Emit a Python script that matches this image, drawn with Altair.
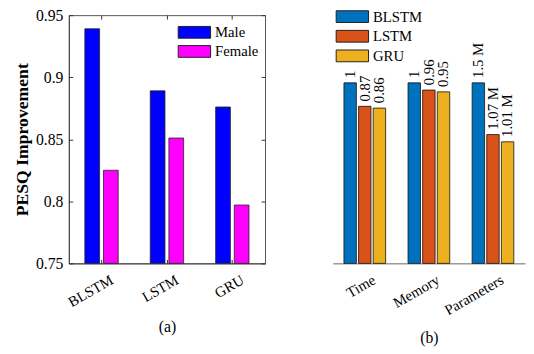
import altair as alt
import pandas as pd

# ---------------- data ----------------
# Panel (a): PESQ improvement
models_a = ["BLSTM", "LSTM", "GRU"]
genders = ["Male", "Female"]
male_vals = [0.939, 0.889, 0.876]
female_vals = [0.825, 0.851, 0.797]
y_ticks_a = [0.75, 0.8, 0.85, 0.9, 0.95]

# Panel (b): relative cost
metrics = ["Time", "Memory", "Parameters"]
models_b = ["BLSTM", "LSTM", "GRU"]
time_vals = [1, 0.87, 0.86]
memory_vals = [1, 0.96, 0.95]
param_vals = [1.5, 1.07, 1.01]
time_labels = ["1", "0.87", "0.86"]
memory_labels = ["1", "0.96", "0.95"]
param_labels = ["1.5 M", "1.07 M", "1.01 M"]

colors_a = ["#0000FF", "#FF00FF"]
colors_b = ["#0072BD", "#D95319", "#EDB120"]

FONT = "Liberation Serif"
W_A, W_B, H = 200, 196, 253
# wide legend rectangle: 33 x 12 px when symbolSize = 144
RECT = "M-2.75,-1H2.75V1H-2.75Z"

rows_a = []
for m, mv, fv in zip(models_a, male_vals, female_vals):
    rows_a.append({"model": m, "gender": "Male", "value": mv})
    rows_a.append({"model": m, "gender": "Female", "value": fv})
df_a = pd.DataFrame(rows_a)

rows_b = []
for met, vals, labs in zip(metrics, [time_vals, memory_vals, param_vals],
                           [time_labels, memory_labels, param_labels]):
    for mod, v, l in zip(models_b, vals, labs):
        rows_b.append({"metric": met, "model": mod, "value": v, "label": l})
df_b = pd.DataFrame(rows_b)


def legend(x, y, rowpad):
    return alt.Legend(title=None, orient="none", legendX=x, legendY=y,
                      symbolType=RECT, symbolSize=144,
                      symbolStrokeColor="#222222", symbolStrokeWidth=1,
                      symbolOpacity=1, labelFontSize=15, labelOffset=13.5,
                      rowPadding=rowpad, padding=0)


# ---------------- panel (a) ----------------
xoff_a = alt.XOffset("gender:N", sort=genders,
                     scale=alt.Scale(paddingInner=0.21, paddingOuter=0))
xscale_a = alt.Scale(paddingInner=0.49, paddingOuter=0.245)
yscale_a = alt.Scale(domain=[0.75, 0.95])

bars_a = alt.Chart(df_a).mark_bar(stroke="#222222", strokeWidth=0.8).encode(
    x=alt.X("model:N", sort=models_a, scale=xscale_a,
            axis=alt.Axis(title="(a)", labelAngle=330, labelFontSize=15,
                          titleFontSize=16, titleFontWeight="normal",
                          ticks=False, domainColor="#444444", labelPadding=9,
                          labelOffset=7, titlePadding=9)),
    xOffset=xoff_a,
    y=alt.Y("value:Q", scale=yscale_a,
            axis=alt.Axis(title="PESQ Improvement", values=y_ticks_a, format="~g",
                          labelFontSize=16, titleFontSize=18, titleFontWeight="bold",
                          ticks=False, grid=False, domainColor="#444444",
                          labelPadding=6, titlePadding=4)),
    y2=alt.datum(0.75),
    color=alt.Color("gender:N", sort=genders,
                    scale=alt.Scale(domain=genders, range=colors_a),
                    legend=legend(120.5, 10, 2.5)),
)


def ghost_a(xorient, yorient):
    return alt.Chart(df_a).mark_bar(opacity=0).encode(
        x=alt.X("model:N", sort=models_a, scale=xscale_a,
                axis=alt.Axis(orient=xorient, offset=-H, labels=False, domain=False,
                              ticks=True, tickSize=4, tickColor="#333333", title=None)),
        xOffset=xoff_a,
        y=alt.Y("value:Q", scale=yscale_a,
                axis=alt.Axis(orient=yorient, offset=-W_A, values=y_ticks_a, labels=False,
                              domain=False, ticks=True, tickSize=4, tickColor="#333333",
                              grid=False, title=None)),
        y2=alt.datum(0.75),
    )


panel_a = alt.layer(bars_a, ghost_a("top", "right"), ghost_a("bottom", "left")).resolve_axis(
    x="independent", y="independent"
).properties(width=W_A, height=H, view=alt.ViewBackground(stroke="#555555", strokeWidth=1))

# ---------------- panel (b) ----------------
ymax_b = H / 184.0
xoff_b = alt.XOffset("model:N", sort=models_b,
                     scale=alt.Scale(paddingInner=0.15, paddingOuter=0))
xscale_b = alt.Scale(paddingInner=0.35, paddingOuter=0.175)
yscale_b = alt.Scale(domain=[0, ymax_b])

base_b = alt.Chart(df_b).transform_joinaggregate(
    maxv="max(value)", groupby=["metric"]
).transform_calculate(norm="datum.value / datum.maxv")

bars_b = base_b.mark_bar(stroke="#111111", strokeWidth=0.8).encode(
    x=alt.X("metric:N", sort=metrics, scale=xscale_b,
            axis=alt.Axis(title="(b)", labelAngle=330, labelFontSize=15,
                          titleFontSize=16, titleFontWeight="normal",
                          ticks=False, domainColor="#666666", labelPadding=9,
                          labelOffset=6, titlePadding=12)),
    xOffset=xoff_b,
    y=alt.Y("norm:Q", scale=yscale_b, axis=None),
    color=alt.Color("model:N", sort=models_b,
                    scale=alt.Scale(domain=models_b, range=colors_b),
                    legend=legend(12.5, -6, 3)),
)

text_b = base_b.mark_text(angle=270, align="left", baseline="middle", dx=5,
                          font=FONT, fontSize=15, color="black").encode(
    x=alt.X("metric:N", sort=metrics, scale=xscale_b, axis=None),
    xOffset=xoff_b,
    y=alt.Y("norm:Q", scale=yscale_b, axis=None),
    text="label:N",
)

ghost_b = base_b.mark_bar(opacity=0).encode(
    x=alt.X("metric:N", sort=metrics, scale=xscale_b,
            axis=alt.Axis(orient="top", offset=-H, labels=False, domain=False,
                          ticks=True, tickSize=4, tickColor="#333333", title=None)),
    xOffset=xoff_b,
    y=alt.Y("norm:Q", scale=yscale_b, axis=None),
)

panel_b = alt.layer(bars_b, text_b, ghost_b).resolve_axis(
    x="independent", y="independent"
).properties(width=W_B, height=H, view=alt.ViewBackground(stroke="transparent"))

chart = alt.hconcat(panel_a, panel_b, spacing=67).resolve_scale(
    color="independent", x="independent", y="independent", xOffset="independent"
).properties(
    padding={"left": 5, "top": -5, "right": 0, "bottom": 0}
).configure(font=FONT).configure_axis(
    labelFont=FONT, titleFont=FONT, labelColor="black", titleColor="black"
).configure_legend(labelFont=FONT, labelColor="black")

chart.save("out.html", embed_options={"renderer": "svg", "actions": False})
